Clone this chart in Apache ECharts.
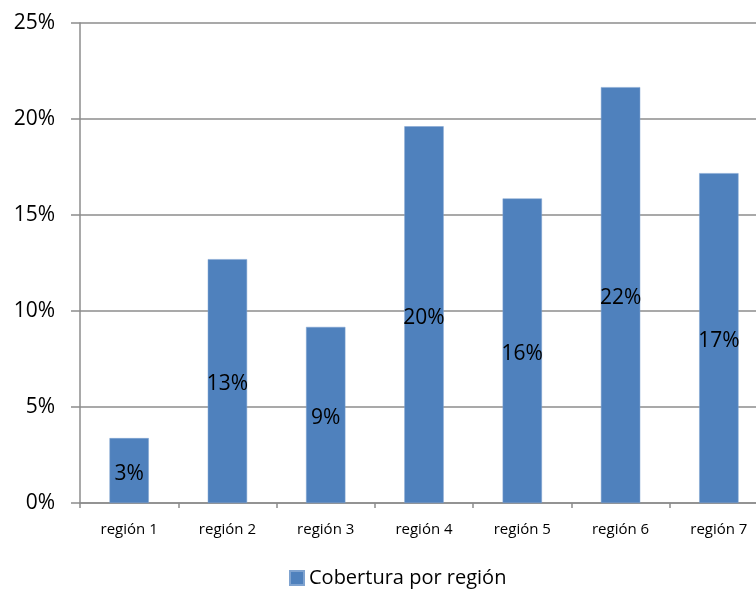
<!DOCTYPE html>
<html>
<head>
<meta charset="utf-8">
<script src="https://cdn.jsdelivr.net/npm/echarts@6/dist/echarts.min.js"></script>
<style>
  html, body { margin: 0; padding: 0; background: #fff; }
  #chart { width: 756px; height: 590px; }
</style>
</head>
<body>
<div id="chart"></div>
<script>
// Coverage share per region (percent)
const categories = ['región 1', 'región 2', 'región 3', 'región 4', 'región 5', 'región 6', 'región 7'];
const coverage = [3.38, 12.7, 9.17, 19.62, 15.86, 21.66, 17.18];
const seriesName = 'Cobertura por región';
const yTicks = [0, 5, 10, 15, 20, 25];

const FONT = '"Open Sans", sans-serif';
const GRID_COLOR = '#8c8c8c';

const chart = echarts.init(document.getElementById('chart'), null, { renderer: 'canvas' });
chart.setOption({
  animation: false,
  backgroundColor: '#ffffff',
  // plot area runs slightly past the right edge of the canvas
  grid: { left: 80, top: 23, width: 688, bottom: 87, containLabel: false, outerBoundsMode: 'none' },
  legend: {
    data: [seriesName],
    bottom: -3,
    left: 284,
    itemWidth: 14,
    itemHeight: 14,
    itemGap: 4,
    icon: 'rect',
    textStyle: { fontFamily: FONT, fontSize: 20, color: '#000' }
  },
  xAxis: {
    type: 'category',
    data: categories,
    axisLine: { show: true, lineStyle: { color: GRID_COLOR, width: 1.5 } },
    axisTick: { show: true, alignWithLabel: false, length: 5, lineStyle: { color: GRID_COLOR, width: 1.5 } },
    axisLabel: { margin: 19, fontFamily: FONT, fontSize: 15, color: '#000' }
  },
  yAxis: {
    type: 'value',
    min: yTicks[0],
    max: yTicks[yTicks.length - 1],
    interval: 5,
    axisLine: { show: true, lineStyle: { color: GRID_COLOR, width: 1.5 } },
    axisTick: { show: true, inside: false, length: 9, lineStyle: { color: GRID_COLOR, width: 1.5 } },
    splitLine: { show: true, lineStyle: { color: GRID_COLOR, width: 1.5 } },
    axisLabel: {
      margin: 25,
      fontFamily: FONT,
      fontSize: 21,
      color: '#000',
      formatter: v => v + '%'
    }
  },
  series: [{
    name: seriesName,
    type: 'bar',
    data: coverage,
    barWidth: '40%',
    itemStyle: { color: '#4f81bd', borderColor: '#7fa3d0', borderWidth: 0.5 },
    label: {
      show: true,
      position: 'inside',
      offset: [0, 3],
      fontFamily: FONT,
      fontSize: 21,
      color: '#000',
      formatter: p => Math.round(p.value) + '%'
    }
  }]
});
</script>
</body>
</html>
